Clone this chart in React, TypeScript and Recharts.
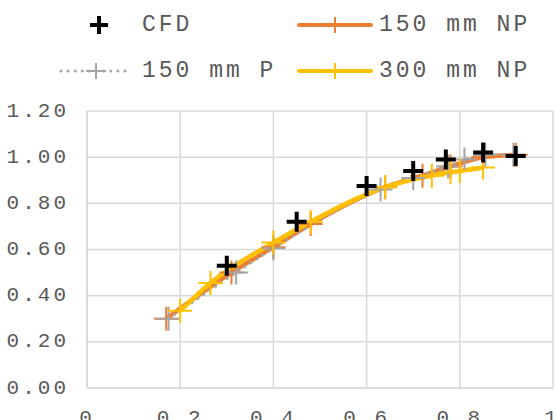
import React from 'react';
import { ComposedChart, Line, XAxis, YAxis, CartesianGrid } from 'recharts';

// CFD reference points
const cfdX = [0.30, 0.45, 0.60, 0.70, 0.77, 0.85, 0.92];
const cfdY = [0.53, 0.72, 0.875, 0.94, 0.99, 1.02, 1.005];

// 150 mm NP
const np150X = [0.17, 0.31, 0.40, 0.48, 0.64, 0.72, 0.78, 0.85, 0.92];
const np150Y = [0.30, 0.50, 0.61, 0.71, 0.87, 0.92, 0.96, 1.00, 1.01];

// 150 mm P
const p150X = [0.175, 0.32, 0.40, 0.63, 0.70, 0.775, 0.81, 0.855, 0.915];
const p150Y = [0.30, 0.50, 0.605, 0.86, 0.91, 0.96, 0.99, 1.01, 1.01];

// 300 mm NP
const np300X = [0.20, 0.265, 0.40, 0.48, 0.64, 0.74, 0.78, 0.80, 0.85];
const np300Y = [0.335, 0.455, 0.63, 0.72, 0.87, 0.92, 0.935, 0.94, 0.955];

const xTicks = [0, 0.2, 0.4, 0.6, 0.8, 1];
const yTicks = [0, 0.2, 0.4, 0.6, 0.8, 1.0, 1.2];

const toPoints = (xs: number[], ys: number[]) => xs.map((x, i) => ({ x, y: ys[i] }));

const FONT = '"Liberation Mono", "Courier New", monospace';
const TEXT = '#595959';

const plusDot = (color: string, size: number, width: number) => (props: any) => {
  const { cx, cy, index } = props;
  if (cx == null || cy == null) return <g key={index} />;
  const h = size / 2;
  return (
    <path
      key={index}
      d={`M${cx - h},${cy}H${cx + h}M${cx},${cy - h}V${cy + h}`}
      stroke={color}
      strokeWidth={width}
      fill="none"
    />
  );
};

const XTick = (props: any) => {
  const { x, y, payload } = props;
  return (
    <text x={x} y={y + 14} textAnchor="middle" dominantBaseline="hanging"
      fontFamily={FONT} fontSize={21} letterSpacing={3} fill={TEXT}>
      {String(payload.value)}
    </text>
  );
};

const YTick = (props: any) => {
  const { x, y, payload } = props;
  return (
    <text x={x - 10} y={y} textAnchor="end" dominantBaseline="central"
      fontFamily={FONT} fontSize={21} letterSpacing={3} fill={TEXT}>
      {Number(payload.value).toFixed(2)}
    </text>
  );
};

const LegendRow = () => {
  const text = { fontFamily: FONT, fontSize: 23, letterSpacing: 3, fill: TEXT };
  return (
    <svg width={556} height={100} style={{ position: 'absolute', left: 0, top: 0 }}>
      {/* CFD */}
      <path d="M90,25H108M99,16V34" stroke="#000" strokeWidth={4} />
      <text x={142} y={25} dominantBaseline="central" {...text}>CFD</text>
      {/* 150 mm NP */}
      <line x1={299} y1={25} x2={371} y2={25} stroke="#ED7D31" strokeWidth={4} strokeLinecap="round" />
      <path d="M335,17V33" stroke="#ED7D31" strokeWidth={2} />
      <text x={379} y={25} dominantBaseline="central" {...text}>150 mm NP</text>
      {/* 150 mm P */}
      <line x1={61} y1={71} x2={128} y2={71} stroke="#A5A5A5" strokeWidth={3}
        strokeDasharray="0.1 7" strokeLinecap="round" />
      <path d="M86,71H106M96,63V79" stroke="#A5A5A5" strokeWidth={2} />
      <text x={142} y={71} dominantBaseline="central" {...text}>150 mm P</text>
      {/* 300 mm NP */}
      <line x1={299} y1={71} x2={371} y2={71} stroke="#FFC000" strokeWidth={4} strokeLinecap="round" />
      <path d="M335,63V79" stroke="#FFC000" strokeWidth={2} />
      <text x={379} y={71} dominantBaseline="central" {...text}>300 mm NP</text>
    </svg>
  );
};

export default function App() {
  return (
    <div style={{ position: 'absolute', left: 0, top: 0, width: 556, height: 420, background: '#fff', overflow: 'hidden' }}>
      <ComposedChart width={556} height={420} margin={{ top: 111, right: 3, bottom: 2, left: 0 }}>
        <CartesianGrid stroke="#D9D9D9" strokeWidth={1.5} />
        <XAxis type="number" dataKey="x" domain={[0, 1]} ticks={xTicks} height={30}
          axisLine={{ stroke: '#D9D9D9', strokeWidth: 1.5 }} tickLine={false} tick={<XTick />}
          allowDuplicatedCategory={false} />
        <YAxis type="number" dataKey="y" domain={[0, 1.2]} ticks={yTicks} width={87}
          axisLine={{ stroke: '#D9D9D9', strokeWidth: 1.5 }} tickLine={false} tick={<YTick />} />
        <Line data={toPoints(np150X, np150Y)} dataKey="y" type="monotone" stroke="#ED7D31"
          strokeWidth={4.5} dot={plusDot('#ED7D31', 24, 2)} isAnimationActive={false} />
        <Line data={toPoints(p150X, p150Y)} dataKey="y" type="monotone" stroke="#A5A5A5"
          strokeWidth={3} strokeDasharray="0.1 7" strokeLinecap="round"
          dot={plusDot('#A5A5A5', 24, 2)} isAnimationActive={false} />
        <Line data={toPoints(np300X, np300Y)} dataKey="y" type="monotone" stroke="#FFC000"
          strokeWidth={4.5} dot={plusDot('#FFC000', 24, 2)} isAnimationActive={false} />
        <Line data={toPoints(cfdX, cfdY)} dataKey="y" stroke="none" strokeWidth={0}
          dot={plusDot('#000000', 20, 4)} isAnimationActive={false} />
      </ComposedChart>
      <LegendRow />
    </div>
  );
}
